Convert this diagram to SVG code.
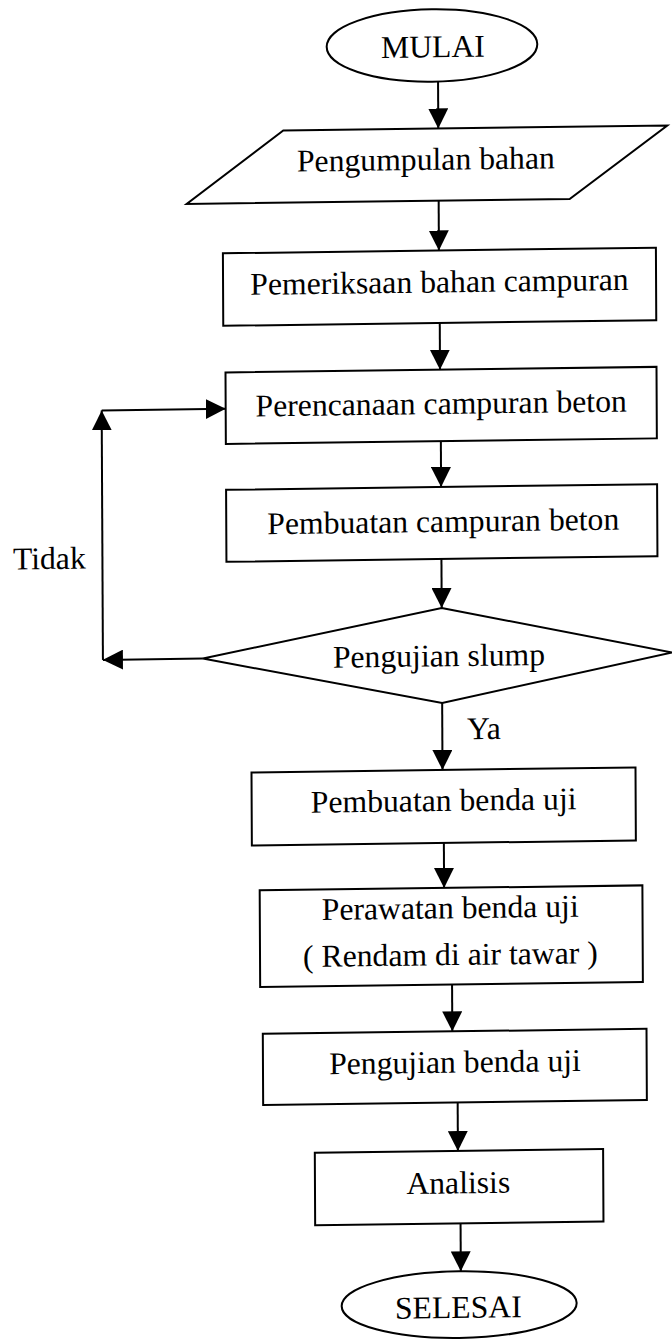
<svg xmlns="http://www.w3.org/2000/svg" width="672" height="1341" viewBox="0 0 672 1341">
  <style>
    .shape { fill: #ffffff; stroke: #000000; stroke-width: 2; }
    .conn { fill: none; stroke: #000000; stroke-width: 2; marker-end: url(#arrow); }
    .label { font-family: "Liberation Serif", "Times New Roman", serif; font-size: 31.7px; fill: #000000; text-anchor: middle; }
    .free { text-anchor: start; }
  </style>
  <defs>
    <marker id="arrow" markerUnits="userSpaceOnUse" markerWidth="20" markerHeight="20" refX="20" refY="10" orient="auto">
      <path d="M0,0 L20,10 L0,20 Z" fill="#000000"/>
    </marker>
  </defs>
  <rect x="0" y="0" width="672" height="1341" fill="#ffffff"/>
  <g id="diagram" transform="matrix(1 -0.013 0.005 1 -3.35 5.72)">
    <g id="mulai">
      <ellipse class="shape" cx="435.1" cy="45.4" rx="105.3" ry="36.2"/>
      <text class="label" x="436" y="57.2">MULAI</text>
    </g>
    <g id="pengumpulan">
      <polygon class="shape" points="286,128.5 670,128.5 572,200.7 189,200.7"/>
      <text class="label" x="428.4" y="169.8">Pengumpulan bahan</text>
    </g>
    <g id="pemeriksaan">
      <rect class="shape" x="225" y="250.5" width="433" height="72.5"/>
      <text class="label" x="441.4" y="292.4">Pemeriksaan bahan campuran</text>
    </g>
    <g id="perencanaan">
      <rect class="shape" x="227" y="369.7" width="431" height="71.5"/>
      <text class="label" x="442.5" y="414">Perencanaan campuran beton</text>
    </g>
    <g id="pembuatan-campuran">
      <rect class="shape" x="227" y="487" width="431" height="72"/>
      <text class="label" x="444" y="532">Pembuatan campuran beton</text>
    </g>
    <g id="pengujian-slump">
      <polygon class="shape" points="442,608 672.5,655.5 442,703 203,655.5"/>
      <text class="label" x="439" y="666.3">Pengujian slump</text>
    </g>
    <g id="pembuatan-benda">
      <rect class="shape" x="251" y="770" width="384" height="73"/>
      <text class="label" x="443" y="811">Pembuatan benda uji</text>
    </g>
    <g id="perawatan">
      <rect class="shape" x="258.6" y="888" width="382.7" height="96.6"/>
      <text class="label" x="449" y="918.4">Perawatan benda uji</text>
      <text class="label" x="449" y="965.2">( Rendam di air tawar )</text>
    </g>
    <g id="pengujian-benda">
      <rect class="shape" x="261" y="1031.5" width="383.7" height="71.2"/>
      <text class="label" x="453" y="1072.8">Pengujian benda uji</text>
    </g>
    <g id="analisis">
      <rect class="shape" x="312.4" y="1151.2" width="288.3" height="72.4"/>
      <text class="label" x="455.7" y="1193.5">Analisis</text>
    </g>
    <g id="selesai">
      <ellipse class="shape" cx="456" cy="1304.8" rx="117.5" ry="33.3"/>
      <text class="label" x="455.1" y="1318.2">SELESAI</text>
    </g>
    <g id="connectors">
      <line class="conn" x1="441" y1="81.5" x2="441" y2="128.5"/>
      <line class="conn" x1="441" y1="200.7" x2="441" y2="250.5"/>
      <line class="conn" x1="441.5" y1="323" x2="441.5" y2="369.7"/>
      <line class="conn" x1="442" y1="441.2" x2="442" y2="487"/>
      <line class="conn" x1="442" y1="559" x2="442" y2="608"/>
      <line class="conn" x1="442" y1="703" x2="442" y2="770"/>
      <line class="conn" x1="443" y1="843" x2="443" y2="888"/>
      <line class="conn" x1="450.5" y1="984.6" x2="450.5" y2="1031.5"/>
      <line class="conn" x1="455.5" y1="1102.7" x2="455.5" y2="1151.2"/>
      <line class="conn" x1="457.8" y1="1223.6" x2="457.8" y2="1271.5"/>
      <line class="conn" x1="203" y1="655.5" x2="103" y2="655.5"/>
      <line class="conn" x1="103" y1="655.5" x2="103" y2="406"/>
      <line class="conn" x1="103" y1="406" x2="227" y2="406"/>
      <text class="label free" x="13.5" y="563.9">Tidak</text>
      <text class="label free" x="466.7" y="739.6">Ya</text>
    </g>
  </g>
</svg>
